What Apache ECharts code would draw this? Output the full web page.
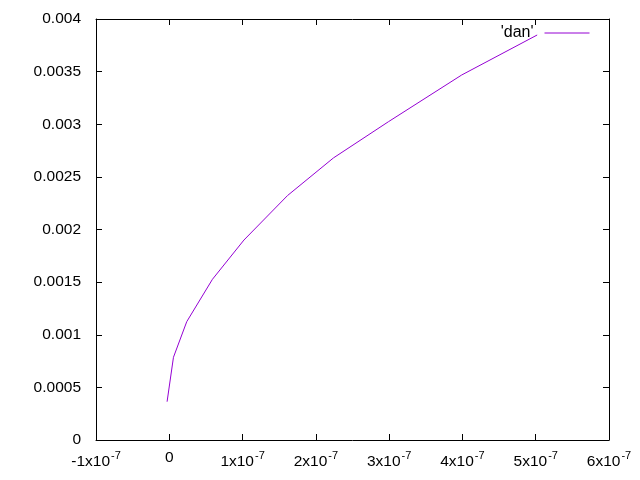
<!DOCTYPE html>
<html><head><meta charset="utf-8">
<script src="https://cdn.jsdelivr.net/npm/echarts@6/dist/echarts.min.js"></script>
<style>html,body{margin:0;padding:0;background:#fff}#c{width:640px;height:480px}</style>
</head><body><div id="c"></div>
<script>
const seriesName = "'dan'";
const xValues = [-3e-9, 5.7e-9, 2.38e-8, 5.89e-8, 1.019e-7, 1.614e-7, 2.24e-7, 2.99e-7, 3.99e-7, 5.02e-7];
const yValues = [0.000364, 0.000786, 0.001124, 0.001527, 0.0019, 0.002323, 0.00268, 0.003024, 0.003468, 0.003848];
const xTickMantissa = [-1, 0, 1, 2, 3, 4, 5, 6];
const yTickLabels = ['0', '0.0005', '0.001', '0.0015', '0.002', '0.0025', '0.003', '0.0035', '0.004'];

const font = 'Liberation Sans, Arial, sans-serif';
const fs = 15.5;
const chart = echarts.init(document.getElementById('c'));
const tick = {show: true, inside: true, length: 6, lineStyle: {color: '#000'}};
const axisLine = {show: true, onZero: false, lineStyle: {color: '#000', width: 1}};
function xFmt(v) {
  const m = Math.round(v / 1e-7);
  const k = xTickMantissa.indexOf(m);
  if (m === 0) return '0';
  return xTickMantissa[k] + 'x10{s|-7}';
}
chart.setOption({
  animation: false,
  grid: {left: 96, right: 31, top: 19, bottom: 40},
  legend: {
    data: [seriesName], right: 50, top: 25, bottom: 'auto', left: 'auto', orient: 'horizontal', align: 'right',
    itemWidth: 45, itemHeight: 14, itemGap: 10, padding: 0,
    itemStyle: {opacity: 0},
    lineStyle: {width: 1, color: '#9400d3'},
    textStyle: {fontFamily: font, fontSize: 16, color: '#000', padding: [0, 6, 0, 0]}
  },
  xAxis: [{
    type: 'value', min: -1e-7, max: 6e-7, interval: 1e-7,
    axisLine, axisTick: tick, splitLine: {show: false},
    axisLabel: {formatter: xFmt, color: '#000', fontFamily: font, fontSize: fs, margin: 10,
      rich: {s: {fontSize: 11, verticalAlign: 'top', padding: [0, 0, 12, 1], fontFamily: font, color: '#000'}}}
  }, {
    type: 'value', position: 'top', min: -1e-7, max: 6e-7, interval: 1e-7,
    axisLine, axisTick: tick, axisLabel: {show: false}, splitLine: {show: false}
  }],
  yAxis: [{
    type: 'value', min: 0, max: 0.004, interval: 0.0005,
    axisLine, axisTick: tick, splitLine: {show: false},
    axisLabel: {formatter: (v) => yTickLabels[Math.round(v / 0.0005)], color: '#000', fontFamily: font, fontSize: fs, margin: 15}
  }, {
    type: 'value', position: 'right', min: 0, max: 0.004, interval: 0.0005,
    axisLine, axisTick: tick, axisLabel: {show: false}, splitLine: {show: false}
  }],
  series: [{
    name: seriesName, type: 'line', showSymbol: false, symbol: 'none',
    lineStyle: {color: '#9400d3', width: 1}, itemStyle: {color: '#9400d3'},
    data: xValues.map((x, i) => [x, yValues[i]])
  }]
});
</script></body></html>
